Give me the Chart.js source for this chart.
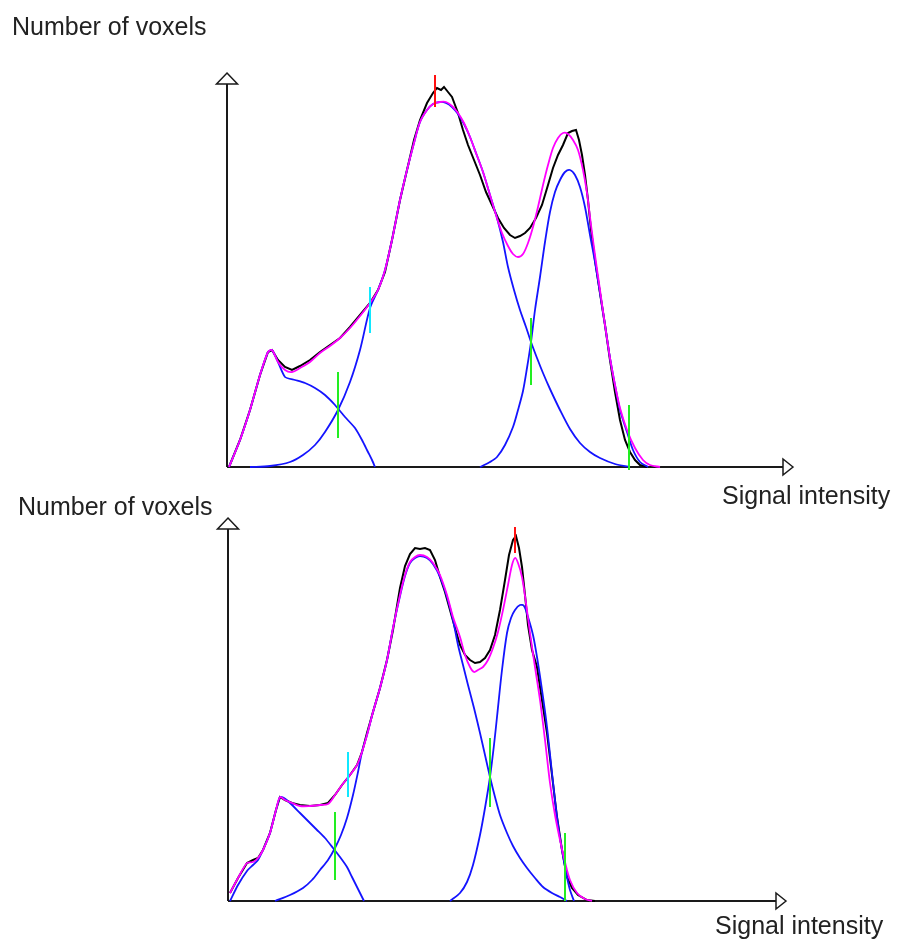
<!DOCTYPE html>
<html>
<head>
<meta charset="utf-8">
<title>Signal intensity histograms</title>
<script src="https://cdn.jsdelivr.net/npm/chart.js@4/dist/chart.umd.min.js"></script>
<style>
  html, body { margin: 0; padding: 0; background: #fff; }
  #wrap { position: relative; width: 901px; height: 940px; overflow: hidden; }
  canvas { position: absolute; left: 0; }
  .lbl {
    position: absolute; white-space: nowrap;
    font-family: "Liberation Sans", Arial, sans-serif;
    font-size: 25px; line-height: 25px; color: #222;
  }
</style>
</head>
<body>
<div id="wrap">
  <canvas id="upper" width="901" height="480" style="top:0"></canvas>
  <canvas id="lower" width="901" height="460" style="top:480px"></canvas>
  <div class="lbl" style="left:12px;top:14px">Number of voxels</div>
  <div class="lbl" style="left:722px;top:483px">Signal intensity</div>
  <div class="lbl" style="left:18px;top:494px">Number of voxels</div>
  <div class="lbl" style="left:715px;top:913px">Signal intensity</div>
</div>
<script>
// ---------- upper histogram ----------
const upperHistX = [2,13,23,33,41,45,51,58,65,73,83,93,103,113,123,133,143,151,158,165,173,180,187,193,200,206,210,214,217,221,225,231,236,241,247,253,259,265,271,277,283,288,293,298,303,309,315,321,326,331,336,341,345,349,352,355,358,361,364,368,373,378,383,388,393,398,403,408,413,420];
const upperHistY = [0,27,57,92,115,117,107,100,97,101,107,115,122,129,140,152,164,177,195,227,267,297,327,347,364,374,379,377,380,375,370,354,337,322,307,292,275,262,249,239,232,229,231,234,239,249,262,282,299,312,322,334,336,337,327,312,292,267,237,207,174,142,107,75,47,27,15,7,2,0];

const upperFitX = [2,13,23,33,41,45,51,58,65,73,83,93,103,113,123,133,143,151,158,165,173,180,187,193,200,206,213,219,225,231,237,243,249,256,263,269,275,281,286,291,296,301,306,311,316,321,326,331,336,341,346,351,356,360,364,368,373,378,383,388,393,400,408,416,423,433];
const upperFitY = [0,27,57,92,115,117,105,97,95,99,105,114,121,129,139,151,164,177,197,227,267,297,324,345,357,363,365,365,361,354,344,330,314,295,272,252,234,221,213,210,213,224,240,260,282,302,319,329,334,333,327,317,297,274,242,212,177,142,109,82,59,37,19,7,2,0];

const upperC1X = [2,13,23,33,41,45,51,58,68,78,88,98,108,118,128,135,141,145,148];
const upperC1Y = [0,27,57,92,115,117,105,90,87,84,79,72,62,50,39,27,15,7,0];

const upperC2X = [23,43,63,76,88,98,111,123,133,143,151,158,165,173,180,187,193,200,206,213,219,225,231,237,243,249,256,263,270,276,281,287,293,299,304,310,316,323,333,343,353,363,373,388,403];
const upperC2Y = [0,1,5,12,22,35,57,85,117,159,177,197,227,267,297,324,345,357,363,365,364,360,353,343,330,314,295,272,249,225,200,177,157,140,125,109,94,78,57,38,24,15,9,3,0];

const upperC3X = [253,263,270,278,286,291,296,300,304,308,313,318,323,328,333,338,343,348,353,358,363,368,373,378,383,388,393,400,406,413,421];
const upperC3Y = [0,5,10,22,40,57,76,99,125,157,190,225,255,275,287,295,297,292,280,260,232,205,174,142,109,82,57,35,17,5,0];

// marker bars: position, lower and upper extent, kind
const upperMarkX  = [208, 143, 111, 304, 402];
const upperMarkLo = [360, 134, 29, 82, -3];
const upperMarkHi = [392, 180, 95, 149, 62];
const upperMarkKind = ['peak', 'split', 'cross', 'cross', 'cross'];

// ---------- lower histogram ----------
const lowerHistX = [2,10,19,25,30,35,42,48,52,57,64,72,82,92,100,107,114,122,129,134,139,145,152,159,165,172,177,182,187,192,197,202,207,212,217,222,227,232,237,242,247,252,257,262,267,272,277,281,285,288,291,294,297,300,304,309,314,319,324,329,334,339,344,350,359,367];
const lowerHistY = [8,23,38,41,43,51,68,91,104,101,98,96,95,96,98,106,116,126,136,149,168,189,213,241,271,313,335,347,353,352,353,351,341,324,309,291,273,256,246,241,238,239,243,251,266,291,321,346,361,365,353,334,306,276,251,234,201,168,126,84,51,24,13,6,1,0];

const lowerFitX = [2,10,19,25,30,35,42,48,52,57,64,72,82,92,100,107,114,122,129,134,139,145,152,159,165,172,177,182,187,192,199,205,212,219,225,232,237,242,246,250,255,260,265,270,275,280,284,287,290,294,298,302,307,312,317,322,327,332,337,342,349,357,364];
const lowerFitY = [8,23,38,39,43,51,68,91,104,101,98,95,95,96,97,106,116,126,136,149,166,189,213,241,273,306,326,339,344,346,344,338,326,306,284,264,246,234,229,231,234,241,253,269,291,316,336,343,338,324,298,268,234,201,161,118,86,61,39,21,8,2,0];

const lowerC1X = [2,10,19,25,30,35,42,48,52,56,62,72,82,89,97,105,112,119,124,129,133,136];
const lowerC1Y = [0,16,30,36,41,51,68,91,104,103,98,88,78,71,63,53,44,34,24,14,6,0];

const lowerC2X = [47,62,75,84,92,100,107,113,119,125,130,134,139,145,152,159,165,172,177,182,187,192,199,205,212,219,225,230,235,240,246,252,257,262,267,272,279,285,292,299,307,315,324,332,339];
const lowerC2Y = [0,6,13,21,31,41,53,66,83,106,129,149,166,189,213,241,273,305,325,338,343,345,343,337,324,304,281,256,236,216,193,168,146,124,104,86,68,55,43,33,23,14,8,4,0];

const lowerC3X = [222,232,239,245,252,257,262,266,269,274,279,283,287,292,296,300,305,309,314,319,324,329,334,339,342,346];
const lowerC3Y = [0,8,19,36,66,93,124,156,184,231,268,283,291,296,295,284,266,244,211,174,128,84,51,24,11,0];

const lowerMarkX  = [287, 120, 107, 262, 337];
const lowerMarkLo = [348, 104, 21, 94, 0];
const lowerMarkHi = [374, 149, 89, 163, 68];
const lowerMarkKind = ['peak', 'split', 'cross', 'cross', 'cross'];

// ---------- drawing ----------
const markColor = { peak: '#ff1010', split: '#10e8ff', cross: '#22ee22' };
const pts = (xs, ys) => xs.map((x, i) => ({ x: x, y: ys[i] }));

function curve(xs, ys, color, width, order, tension) {
  return {
    data: pts(xs, ys), borderColor: color, borderWidth: width,
    pointRadius: 0, tension: tension, order: order, clip: false, fill: false
  };
}

function markerSets(xs, lo, hi, kinds) {
  return xs.map((x, i) => ({
    data: [{ x: x, y: lo[i] }, { x: x, y: hi[i] }],
    borderColor: markColor[kinds[i]], borderWidth: 2,
    pointRadius: 0, order: 0, clip: false
  }));
}

// axis lines with open arrowheads
const arrowAxes = {
  id: 'arrowAxes',
  beforeDatasetsDraw(chart) {
    const { ctx, chartArea: a, scales } = chart;
    const y0 = Math.round(scales.y.getPixelForValue(0));
    const x0 = a.left;
    ctx.save();
    ctx.strokeStyle = '#1a1a1a';
    ctx.lineWidth = 2;
    ctx.beginPath();
    ctx.moveTo(x0, y0); ctx.lineTo(x0, a.top + 11);
    ctx.moveTo(x0, y0); ctx.lineTo(a.right - 10, y0);
    ctx.stroke();
    ctx.fillStyle = '#fff';
    ctx.lineWidth = 1.5;
    // vertical arrowhead
    ctx.beginPath();
    ctx.moveTo(x0, a.top);
    ctx.lineTo(x0 + 10.5, a.top + 11);
    ctx.lineTo(x0 - 10.5, a.top + 11);
    ctx.closePath();
    ctx.fill(); ctx.stroke();
    // horizontal arrowhead
    ctx.beginPath();
    ctx.moveTo(a.right, y0);
    ctx.lineTo(a.right - 10, y0 - 8);
    ctx.lineTo(a.right - 10, y0 + 8);
    ctx.closePath();
    ctx.fill(); ctx.stroke();
    ctx.restore();
  }
};

function panel(id, sets, xMax, yMax, pad) {
  return new Chart(document.getElementById(id), {
    type: 'line',
    data: { datasets: sets },
    options: {
      responsive: false, animation: false, events: [],
      layout: { padding: pad },
      plugins: { legend: { display: false }, tooltip: { enabled: false } },
      scales: {
        x: { type: 'linear', min: 0, max: xMax, display: false },
        y: { type: 'linear', min: -5, max: yMax, display: false }
      }
    },
    plugins: [arrowAxes]
  });
}

const HIST = '#000000', FIT = '#ff00ff', COMP = '#1414ff';

panel('upper', [
  ...markerSets(upperMarkX, upperMarkLo, upperMarkHi, upperMarkKind),
  curve(upperFitX, upperFitY, FIT, 1.8, 1, 0.3),
  curve(upperC1X, upperC1Y, COMP, 1.8, 2, 0.2),
  curve(upperC2X, upperC2Y, COMP, 1.8, 2, 0.3),
  curve(upperC3X, upperC3Y, COMP, 1.8, 2, 0.3),
  curve(upperHistX, upperHistY, HIST, 2, 3, 0)
], 566, 394, { left: 227, right: 108, top: 73, bottom: 8 });

panel('lower', [
  ...markerSets(lowerMarkX, lowerMarkLo, lowerMarkHi, lowerMarkKind),
  curve(lowerFitX, lowerFitY, FIT, 1.8, 1, 0.3),
  curve(lowerC1X, lowerC1Y, COMP, 1.8, 2, 0.2),
  curve(lowerC2X, lowerC2Y, COMP, 1.8, 2, 0.3),
  curve(lowerC3X, lowerC3Y, COMP, 1.8, 2, 0.3),
  curve(lowerHistX, lowerHistY, HIST, 2, 3, 0)
], 558, 383, { left: 228, right: 115, top: 38, bottom: 34 });
</script>
</body>
</html>
